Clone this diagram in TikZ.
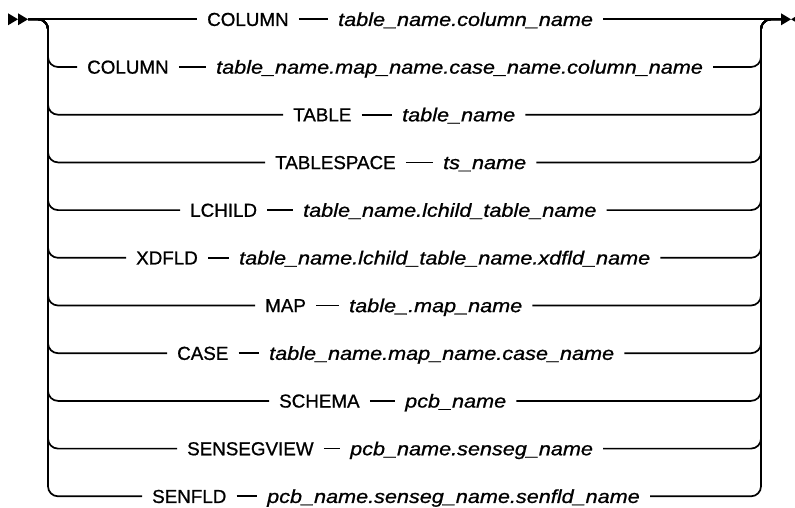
\documentclass[tikz,border=0pt]{standalone}
\usepackage{fontspec}
\setmainfont{Liberation Sans}[FakeBold=0.9, ItalicFeatures={FakeStretch=1.15, FakeBold=0.9}]
\begin{document}
\begin{tikzpicture}[x=1pt,y=-1pt,
  rail/.style={line width=1.7pt, rounded corners=10pt},
  kw/.style={anchor=west, inner xsep=10pt, inner ysep=0pt, text height=13.3pt, text depth=0pt, font=\fontsize{18.8}{22}\selectfont},
  var/.style={kw, font=\fontsize{18.8}{22}\selectfont\itshape},
  tip/.style={fill=black}
]
\useasboundingbox (0,0) rectangle (795,508);
\coordinate (start) at (28,19.3);
\coordinate (L) at (48,19.3);
\coordinate (R) at (761,19.3);
\coordinate (end) at (781,19.3);
% start and end symbols
\fill[tip] (8,13.3) -- (18,19.3) -- (8,25.3) -- cycle;
\fill[tip] (18,13.3) -- (28,19.3) -- (18,25.3) -- cycle;
\fill[tip] (781,13.3) -- (791,19.3) -- (781,25.3) -- cycle;
\fill[tip] (801,13.3) -- (791,19.3) -- (801,25.3) -- cycle;
% rows: name, keyword x, variable x, y
\foreach \i/\k/\kx/\v/\vx in {
  0/COLUMN/207/table\_name.column\_name/338,
  1/COLUMN/87/table\_name.map\_name.case\_name.column\_name/216,
  2/TABLE/293/table\_name/402,
  3/TABLESPACE/275/ts\_name/443,
  4/LCHILD/190/table\_name.lchild\_table\_name/303,
  5/XDFLD/136/table\_name.lchild\_table\_name.xdfld\_name/239,
  6/MAP/265/table\_.map\_name/349,
  7/CASE/177/table\_name.map\_name.case\_name/269,
  8/SCHEMA/279/pcb\_name/405,
  9/SENSEGVIEW/187/pcb\_name.senseg\_name/350,
  10/SENFLD/152/pcb\_name.senseg\_name.senfld\_name/267}{
  \pgfmathsetmacro{\yy}{19.3+47.7*\i}
  \node[kw] (k\i) at (\kx-10,\yy) {\k};
  \node[var] (v\i) at (\vx-10,\yy) {\v};
  \draw[rail] (k\i.east) -- (v\i.west);
  \ifnum\i=0
    \draw[rail] (start) -- (k\i.west);
    \draw[rail] (v\i.east) -- (end);
  \else
    \draw[rail] (start) -| (L |- k\i.west) -- (k\i.west);
    \draw[rail] (v\i.east) -| (R) -- (end);
  \fi
}
\end{tikzpicture}
\end{document}
